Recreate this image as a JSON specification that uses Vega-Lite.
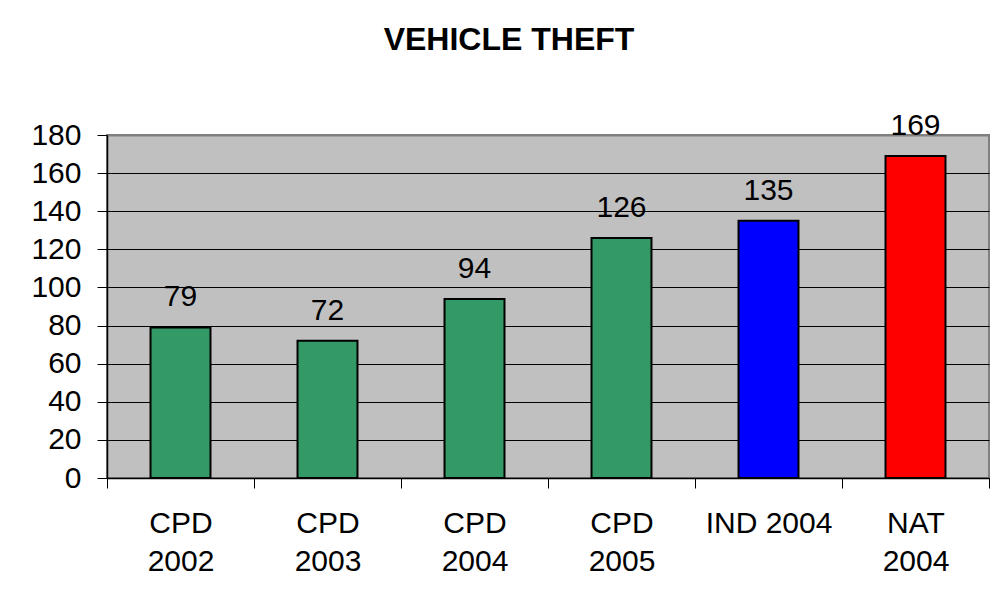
{
  "$schema": "https://vega.github.io/schema/vega-lite/v6.json",
  "autosize": "none",
  "width": 882,
  "height": 343,
  "padding": {"left": 107, "top": 135, "right": 19, "bottom": 131},
  "background": "white",
  "title": {
    "text": "VEHICLE THEFT",
    "font": "Liberation Sans",
    "fontSize": 32,
    "fontWeight": "bold",
    "color": "black",
    "anchor": "middle",
    "dx": -39,
    "offset": 54
  },
  "config": {
    "view": {"stroke": "#808080", "strokeWidth": 2, "fill": "#C0C0C0"},
    "font": "Liberation Sans"
  },
  "data": {
    "values": [
      {"category": "CPD 2002", "theft": 79, "group": "CPD"},
      {"category": "CPD 2003", "theft": 72, "group": "CPD"},
      {"category": "CPD 2004", "theft": 94, "group": "CPD"},
      {"category": "CPD 2005", "theft": 126, "group": "CPD"},
      {"category": "IND 2004", "theft": 135, "group": "IND"},
      {"category": "NAT 2004", "theft": 169, "group": "NAT"}
    ]
  },
  "encoding": {
    "x": {
      "field": "category",
      "type": "nominal",
      "sort": null,
      "scale": {"paddingInner": 0, "paddingOuter": 0},
      "axis": {
        "title": null,
        "labelAngle": 0,
        "labelFont": "Liberation Sans",
        "labelFontSize": 30,
        "labelColor": "black",
        "labelExpr": "datum.label === 'IND 2004' ? datum.label : split(datum.label, ' ')",
        "labelLineHeight": 38,
        "labelPadding": 20,
        "labelBaseline": "top",
        "tickBand": "extent",
        "tickSize": 10,
        "tickColor": "black",
        "tickWidth": 1,
        "domainColor": "black",
        "domainWidth": 1.5,
        "grid": false
      }
    },
    "y": {
      "field": "theft",
      "type": "quantitative",
      "scale": {"domain": [0, 180], "nice": false},
      "axis": {
        "title": null,
        "values": [0, 20, 40, 60, 80, 100, 120, 140, 160, 180],
        "labelFont": "Liberation Sans",
        "labelFontSize": 30,
        "labelColor": "black",
        "labelPadding": 16,
        "tickSize": 10,
        "tickColor": "black",
        "tickWidth": 1,
        "domainColor": "black",
        "domainWidth": 1.5,
        "grid": true,
        "gridColor": {"condition": {"test": "datum.value === 180", "value": "#808080"}, "value": "black"},
        "gridWidth": {"condition": {"test": "datum.value === 180", "value": 2}, "value": 1},
        "gridOpacity": 1
      }
    }
  },
  "layer": [
    {
      "mark": {"type": "bar", "width": {"band": 0.408}, "stroke": "black", "strokeWidth": 2},
      "encoding": {
        "color": {
          "field": "group",
          "type": "nominal",
          "scale": {"domain": ["CPD", "IND", "NAT"], "range": ["#339966", "#0000FF", "#FF0000"]},
          "legend": null
        }
      }
    },
    {
      "mark": {"type": "text", "baseline": "alphabetic", "dy": -21, "fontSize": 30, "font": "Liberation Sans", "color": "black"},
      "encoding": {"text": {"field": "theft", "type": "quantitative"}}
    }
  ]
}
